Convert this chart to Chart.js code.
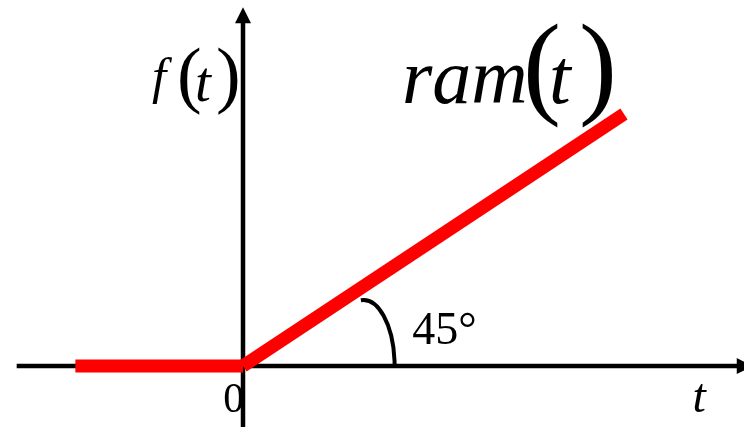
<!DOCTYPE html>
<html>
<head>
<meta charset="utf-8">
<script src="https://cdn.jsdelivr.net/npm/chart.js@4"></script>
<style>
html,body{margin:0;padding:0;background:#fff;}
#wrap{width:744px;height:427px;}
</style>
</head>
<body>
<div id="wrap"><canvas id="c" width="744" height="427"></canvas></div>
<script>
// ---- data (t, f units) ----
const zeroT = [-2.2, 0];
const zeroF = [0, 0];
const rampT = [0, 5];
const rampF = [0, 5];
// visible window of the axes
const tRange = [-3.189, 6.575];
const fRange = [-1.21, 7.262];
// axis line extents
const tAxisSpan = [-2.97, 6.69];
const fAxisSpan = [-1.21, 7.12];
// angle marker (quarter ellipse) center and radii in data units
const arcCenter = [1.58, 0];
const arcRadii = [0.41, 1.31];
// text labels
const angleLabel = '45°';
const originLabel = '0';
const tLabel = 't';

const serif = '"Liberation Serif", "Times New Roman", serif';

const annot = {
  id: 'annot',
  beforeDatasetsDraw(chart) {
    const ctx = chart.ctx, xs = chart.scales.x, ys = chart.scales.y;
    const X = v => xs.getPixelForValue(v), Y = v => ys.getPixelForValue(v);
    ctx.save();
    ctx.strokeStyle = '#000'; ctx.fillStyle = '#000'; ctx.lineWidth = 4.5; ctx.lineCap = 'butt';
    // horizontal axis
    const y0 = Y(0), x0 = X(0);
    const xr = X(tAxisSpan[1]);
    ctx.beginPath(); ctx.moveTo(X(tAxisSpan[0]), y0); ctx.lineTo(xr - 14, y0); ctx.stroke();
    ctx.beginPath(); ctx.moveTo(xr, y0); ctx.lineTo(xr - 16, y0 - 8); ctx.lineTo(xr - 16, y0 + 8); ctx.closePath(); ctx.fill();
    // vertical axis
    const yt = Y(fAxisSpan[1]);
    ctx.beginPath(); ctx.moveTo(x0, Y(fAxisSpan[0])); ctx.lineTo(x0, yt + 14); ctx.stroke();
    ctx.beginPath(); ctx.moveTo(x0, yt); ctx.lineTo(x0 - 8, yt + 16); ctx.lineTo(x0 + 8, yt + 16); ctx.closePath(); ctx.fill();
    // angle arc
    const cx = X(arcCenter[0]), cy = Y(arcCenter[1]);
    const rx = X(arcCenter[0] + arcRadii[0]) - cx, ry = cy - Y(arcCenter[1] + arcRadii[1]);
    ctx.lineWidth = 4;
    ctx.beginPath(); ctx.ellipse(cx, cy, rx, ry, 0, -Math.PI / 2 - 0.08, -0.005); ctx.stroke();
    ctx.restore();
  },
  afterDatasetsDraw(chart) {
    const ctx = chart.ctx, xs = chart.scales.x, ys = chart.scales.y;
    const X = v => xs.getPixelForValue(v), Y = v => ys.getPixelForValue(v);
    ctx.save();
    ctx.fillStyle = '#000';
    ctx.textBaseline = 'alphabetic';
    ctx.textAlign = 'left';
    // pieces: [text, font, ink-left offset px, baseline offset px]
    function run(parts, x, y) {
      for (const [txt, font, dx, dy] of parts) {
        ctx.font = font;
        const m = ctx.measureText(txt);
        ctx.fillText(txt, x + dx + m.actualBoundingBoxLeft, y + dy);
      }
    }
    // f(t)
    run([
      ['f', 'italic 51px ' + serif, 0, -11],
      ['(', '74px ' + serif, 28, -5],
      ['t', 'italic 57px ' + serif, 45, -3],
      [')', '74px ' + serif, 66, -5]
    ], X(-1.195), Y(5.2));
    // ram(t)
    run([
      ['ram', 'italic 78px ' + serif, 0, 0],
      ['(', '114px ' + serif, 123, 0],
      ['t', 'italic 78px ' + serif, 147, 0],
      [')', '114px ' + serif, 177, 0]
    ], X(2.126), Y(5.22));
    // 45°
    ctx.font = '46px ' + serif; ctx.textAlign = 'left';
    ctx.fillText(angleLabel, X(2.22), Y(0.44));
    // 0
    ctx.font = '42px ' + serif; ctx.textAlign = 'center';
    ctx.fillText(originLabel, X(-0.12), Y(-0.91));
    // t
    ctx.font = 'italic 48px ' + serif; ctx.textAlign = 'left';
    ctx.fillText(tLabel, X(5.9), Y(-0.91));
    ctx.restore();
  }
};

const toPts = (ts, fs) => ts.map((t, i) => ({ x: t, y: fs[i] }));

new Chart(document.getElementById('c'), {
  type: 'line',
  data: {
    datasets: [
      { data: toPts(zeroT, zeroF), borderColor: '#ff0000', borderWidth: 13, borderCapStyle: 'butt', pointRadius: 0, fill: false, tension: 0 },
      { data: toPts(rampT, rampF), borderColor: '#ff0000', borderWidth: 13, borderCapStyle: 'butt', pointRadius: 0, fill: false, tension: 0 }
    ]
  },
  options: {
    responsive: false,
    animation: false,
    events: [],
    layout: { padding: 0 },
    plugins: { legend: { display: false }, tooltip: { enabled: false } },
    scales: {
      x: { type: 'linear', display: false, min: tRange[0], max: tRange[1] },
      y: { type: 'linear', display: false, min: fRange[0], max: fRange[1] }
    }
  },
  plugins: [annot]
});
</script>
</body>
</html>
